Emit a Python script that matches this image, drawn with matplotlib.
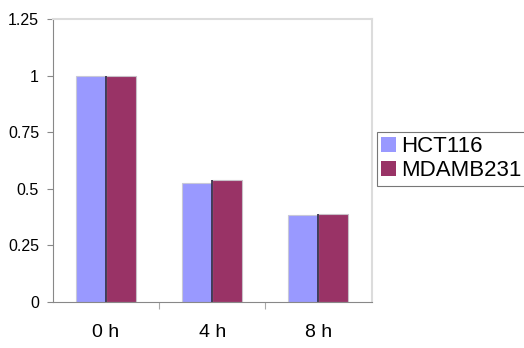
import numpy as np
import matplotlib.pyplot as plt
from matplotlib.patches import Patch

plt.rcParams["font.family"] = ["Liberation Sans", "DejaVu Sans"]

# data
categories = ["0 h", "4 h", "8 h"]
hct116 = [1.0, 0.525, 0.385]
mdamb231 = [1.0, 0.54, 0.39]
yticks = [0, 0.25, 0.5, 0.75, 1, 1.25]
ytick_labels = ["0", "0.25", "0.5", "0.75", "1", "1.25"]

c_hct = "#9999FF"
c_mda = "#993366"

fig = plt.figure(figsize=(5.24, 3.48), dpi=100)
ax = fig.add_axes([0.101, 0.132, 0.608, 0.813])

x = np.arange(len(categories))
w = 0.283
ax.bar(x - w / 2, hct116, w, color=c_hct, edgecolor="#c8c8d8", linewidth=0.8)
ax.bar(x + w / 2, mdamb231, w, color=c_mda, edgecolor="#c8c0c8", linewidth=0.8)
# dark seam between the paired bars
ax.vlines(x, 0, mdamb231, color="#2e2840", linewidth=1.2)

ax.set_xlim(-0.5, 2.5)
ax.set_ylim(0, 1.25)

ax.set_yticks(yticks)
ax.set_yticklabels(ytick_labels, fontsize=11.5)
ax.set_xticks(x[:-1] + 0.5)
ax.set_xticklabels([])
ax.set_xticks(x, minor=True)
ax.set_xticklabels(categories, minor=True, fontsize=14)
ax.tick_params(axis="x", which="minor", length=0, pad=16)
ax.tick_params(axis="x", which="major", direction="out", length=5, color="#aaaaaa")
ax.tick_params(axis="y", direction="out", length=4, color="#888888", pad=6)

for s in ["left", "bottom"]:
    ax.spines[s].set_color("#888888")
for s in ["top", "right"]:
    ax.spines[s].set_color("#dcdcdc")
    ax.spines[s].set_linewidth(1.5)

handles = [Patch(facecolor=c_hct, edgecolor="none"),
           Patch(facecolor=c_mda, edgecolor="none")]
leg = fig.legend(handles, ["HCT116", "MDAMB231"], loc="upper left",
                 bbox_to_anchor=(0.719, 0.622), fontsize=16,
                 handlelength=0.65, handleheight=0.65, handletextpad=0.25,
                 labelspacing=0.15, borderpad=0.2, borderaxespad=0,
                 frameon=True, fancybox=False)
leg.get_frame().set_edgecolor("#555555")
leg.get_frame().set_linewidth(0.8)

fig.savefig("out.png", dpi=100)
